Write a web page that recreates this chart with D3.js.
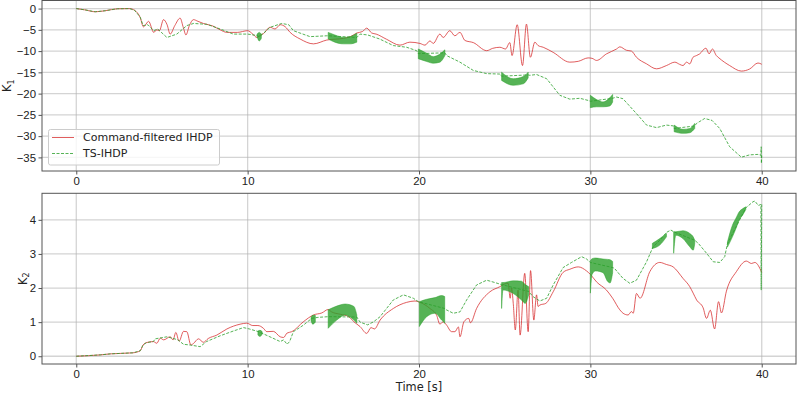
<!DOCTYPE html>
<html>
<head>
<meta charset="utf-8">
<script src="https://cdn.jsdelivr.net/npm/d3@7"></script>
<style>
  body { margin: 0; background: #fff; }
  svg { font-family: "DejaVu Sans", sans-serif; }
  .tick text { font-size: 11.4px; fill: #222; }
</style>
</head>
<body>
<svg id="chart" width="797" height="393"></svg>
<script>
// ---- data: [time, value] ----
var k1Command = [
  [0,0],[0.5,-0.3],[1.1,-0.75],[1.7,-0.5],[2.4,-0.05],[3.1,0],[3.4,-0.4],[3.73,-2.1],[3.92,-4.3],
  [4.22,-3.0],[4.52,-5.6],[4.7,-5.0],[4.85,-5.2],[5.09,-2.6],[5.3,-3.8],[5.48,-6.0],[5.75,-4.0],
  [6.06,-2.25],[6.25,-4.5],[6.4,-6.2],[6.6,-4.0],[6.84,-2.6],[7.1,-3.0],[7.42,-3.5],[7.97,-4.1],
  [8.4,-5.0],[8.79,-5.6],[9.4,-5.6],[10.0,-5.2],[10.3,-6.0],[10.54,-6.8],[10.73,-6.3],[10.92,-5.9],
  [11.31,-4.4],[11.6,-4.8],[11.9,-3.8],[12.19,-4.27],[12.48,-5.6],[13.06,-7.15],[13.84,-8.3],
  [14.62,-7.4],[15.59,-7.0],[16.0,-6.6],[16.37,-5.75],[16.7,-5.4],[16.95,-4.6],[17.24,-5.75],
  [17.5,-6.0],[18.1,-7.2],[18.89,-8.6],[19.47,-7.9],[20.06,-8.2],[20.35,-8.6],[20.64,-7.6],
  [20.83,-8.2],[21.22,-6.0],[21.41,-6.8],[21.8,-5.2],[22.09,-6.4],[22.39,-5.6],[22.68,-7.5],
  [23.17,-8.0],[23.95,-9.9],[24.3,-9.35],[24.72,-9.1],[25.05,-9.5],[25.3,-8.0],[25.43,-11.05],
  [25.73,-3.8],[26.04,-13.4],[26.27,-3.65],[26.5,-11.45],[26.76,-7.9],[26.95,-8.7],[27.25,-9.1],
  [27.83,-10.3],[28.8,-12.6],[29.3,-12.4],[29.87,-11.6],[30.1,-11.7],[30.36,-12.2],[30.94,-10.65],
  [31.53,-9.5],[31.72,-9.0],[32.1,-9.8],[32.4,-10.0],[32.69,-11.45],[33.28,-13.0],[33.86,-14.17],
  [34.44,-13.4],[34.93,-12.6],[35.2,-13.1],[35.41,-13.4],[35.61,-12.6],[35.8,-13.0],[35.99,-11.45],
  [36.19,-11.05],[36.38,-10.65],[36.74,-9.3],[36.93,-10.65],[37.12,-9.5],[37.35,-11.05],[37.5,-11.6],
  [38.13,-13.4],[38.81,-14.7],[39.3,-14.2],[39.78,-12.8],[40,-13.1]
];

var k1TS = [
  [0,0],[0.5,-0.3],[1.1,-0.75],[1.7,-0.5],[2.4,-0.05],[3.1,0],[3.4,-0.4],[3.73,-2.0],[3.9,-4.0],
  [4.18,-3.8],[4.52,-5.2],[4.75,-4.8],[5.29,-6.8],[5.87,-6.0],[6.45,-4.0],[6.84,-3.5],[7.62,-3.7],
  [8.4,-4.8],[9.17,-6.0],[10.0,-6.0],[10.5,-6.3],[10.7,-6.6],[11.31,-4.4],[11.99,-3.5],[12.4,-3.8],
  [12.67,-5.2],[13.64,-6.6],[14.62,-6.4],[14.7,-6.4],[16.37,-6.8],[16.56,-6.0],[17.0,-6.2],
  [17.7,-7.15],[18.5,-8.7],[19.28,-9.1],[19.86,-9.9],[19.96,-10.6],[21.51,-10.4],[21.61,-11.05],
  [22.39,-12.6],[23.17,-14.55],[23.95,-15.3],[24.72,-15.4],[24.82,-15.9],[26.37,-15.6],[26.47,-15.7],
  [26.86,-15.5],[27.45,-16.5],[28.22,-20.4],[28.8,-21.3],[29.39,-21.1],[29.87,-21.6],[30.0,-21.8],
  [31.3,-21.1],[31.53,-20.8],[31.9,-21.2],[32.69,-24.7],[33.28,-27.4],[33.86,-28.0],[34.44,-27.4],
  [34.85,-27.6],[34.89,-28.2],[36.09,-27.6],[36.2,-27.0],[36.67,-25.85],[37.1,-26.3],[37.55,-28.2],
  [38.13,-32.5],[38.81,-34.95],[39.3,-34.4],[39.78,-34.3],[39.95,-34.5],[39.97,-32.5],[39.98,-36.4],
  [40,-34.6]
];

// chattering bands of the TS-IHDP curve: [time, upper, lower]
var k1TSChatter = [
  [[10.55,-6.0,-6.6],[10.68,-5.6,-7.6],[10.8,-6.0,-7.0]],
  [[14.7,-5.6,-7.15],[15.09,-6.2,-7.9],[15.59,-6.8,-8.3],[15.98,-6.6,-8.3],[16.37,-5.8,-7.9]],
  [[19.96,-9.5,-11.8],[20.45,-10.5,-12.45],[20.83,-11.3,-12.85],[21.22,-10.7,-12.6],[21.51,-9.7,-11.05]],
  [[24.82,-14.95,-16.9],[25.5,-16.5,-18.05],[26.08,-16.0,-17.7],[26.37,-14.95,-16.3]],
  [[30.0,-20.4,-23.3],[30.36,-21.4,-23.1],[30.74,-21.95,-23.1],[31.13,-21.0,-22.9],[31.3,-20.2,-21.95]],
  [[34.89,-27.4,-28.97],[35.41,-28.4,-29.35],[35.8,-28.2,-29.2],[36.09,-27.0,-28.2]]
];

var k2Command = [
  [0,0],[1.4,0.04],[2.0,0.07],[3.3,0.1],[3.73,0.16],[3.9,0.33],[4.1,0.4],[4.5,0.43],[4.7,0.38],
  [4.9,0.53],[5.1,0.48],[5.48,0.57],[5.65,0.48],[5.81,0.70],[6.0,0.44],[6.26,0.73],[6.45,0.72],
  [6.69,0.33],[6.85,0.38],[7.13,0.51],[7.42,0.41],[7.7,0.52],[8.2,0.62],[8.79,0.80],[9.56,0.94],
  [9.95,0.97],[10.3,0.9],[10.6,0.9],[10.92,0.82],[11.12,0.72],[11.5,0.73],[11.9,0.57],[12.1,0.55],
  [12.3,0.68],[12.58,0.72],[13.25,1.01],[13.84,1.21],[14.33,1.27],[14.7,1.37],[14.9,1.30],
  [15.41,1.23],[15.9,1.16],[16.2,1.01],[16.56,0.87],[16.95,0.67],[17.2,0.84],[17.4,0.80],
  [17.73,1.06],[18.5,1.40],[19.28,1.58],[19.77,1.62],[20.06,1.58],[20.64,1.40],[21.03,1.2],
  [21.22,0.94],[21.41,1.01],[21.6,0.92],[21.9,0.72],[22.1,0.72],[22.3,0.86],[22.39,0.57],
  [22.62,1.01],[22.9,1.11],[23.0,0.98],[23.36,1.40],[24.14,1.89],[24.72,2.04],[25.0,2.12],
  [25.2,2.14],[25.32,1.7],[25.4,2.0],[25.5,1.55],[25.62,0.77],[25.78,1.94],[25.9,0.62],[26.17,2.43],
  [26.37,0.72],[26.51,2.51],[26.7,1.06],[26.86,1.8],[26.95,1.46],[27.05,1.5],[27.4,1.55],
  [27.83,1.89],[28.41,2.46],[28.8,2.55],[29.29,2.62],[29.78,2.5],[30.0,2.4],[30.36,2.18],
  [30.94,1.94],[31.3,1.70],[31.72,1.36],[31.91,1.26],[32.2,1.21],[32.4,1.31],[32.5,1.26],
  [32.69,1.84],[32.9,1.70],[33.47,2.48],[34.05,2.75],[34.44,2.69],[34.83,2.62],[35.41,2.28],
  [35.8,2.04],[36.0,1.85],[36.2,1.65],[36.58,1.42],[36.78,1.11],[37.0,1.35],[37.25,0.80],
  [37.48,1.60],[37.65,1.27],[37.94,1.91],[38.52,2.48],[39.1,2.79],[39.4,2.72],[39.6,2.75],[40,2.46]
];

var k2TS = [
  [0,0],[1.4,0.04],[2.0,0.07],[3.3,0.1],[3.73,0.16],[3.9,0.33],[4.1,0.4],[4.5,0.43],[4.6,0.51],
  [5.29,0.57],[5.6,0.53],[5.93,0.48],[6.26,0.35],[6.64,0.33],[7.23,0.28],[7.6,0.43],[8.4,0.6],
  [9.17,0.74],[9.76,0.84],[10.1,0.8],[10.64,0.72],[11.3,0.57],[11.9,0.43],[12.1,0.48],[12.3,0.35],
  [12.45,0.43],[12.67,0.72],[13.25,0.91],[13.74,1.11],[14.1,1.14],[14.7,1.16],[16.37,1.15],
  [16.56,1.0],[17.0,0.92],[17.35,1.01],[17.73,1.16],[18.5,1.65],[19.09,1.8],[19.67,1.70],
  [19.96,1.6],[21.5,1.4],[21.6,1.36],[22.0,1.26],[22.39,1.3],[22.78,1.65],[23.36,2.09],[23.95,2.23],
  [24.5,2.15],[24.82,2.1],[26.4,1.9],[26.65,1.75],[27.05,1.62],[27.45,1.70],[27.83,2.09],[28.41,2.6],
  [28.9,2.75],[29.49,2.92],[29.78,2.85],[30.0,2.75],[31.3,2.6],[31.4,2.58],[31.91,2.28],[32.3,2.14],
  [32.69,2.23],[33.28,2.77],[33.66,3.21],[34.05,3.4],[34.44,3.63],[34.7,3.70],[34.86,3.65],
  [36.09,3.4],[36.3,3.31],[36.78,3.02],[37.17,2.77],[37.55,2.75],[37.84,2.92],[38.0,3.3],
  [39.07,4.35],[39.49,4.53],[39.6,4.55],[39.8,4.42],[39.95,4.45],[39.97,1.94],[40,4.45]
];

var k2TSChatter = [
  [[10.6,0.74,0.62],[10.72,0.76,0.58],[10.85,0.72,0.65]],
  [[13.7,1.14,1.05],[13.8,1.2,0.94],[13.95,1.2,1.0]],
  [[14.7,1.36,0.82],[15.2,1.47,1.06],[15.69,1.53,1.21],[16.2,1.46,1.06],[16.37,1.21,0.97]],
  [[20.02,1.6,0.87],[20.45,1.67,1.16],[20.94,1.72,1.26],[21.32,1.78,1.06],[21.5,1.75,0.97]],
  [[24.82,2.16,1.4],[24.9,2.16,1.94],[25.5,2.21,1.84],[25.98,2.2,1.65],[26.2,2.1,1.55],[26.4,2.04,1.8]],
  [[30.0,2.8,1.85],[30.1,2.86,2.4],[30.3,2.88,2.5],[30.74,2.85,2.45],[31.0,2.84,2.2],[31.15,2.83,2.15],[31.3,2.78,2.45]],
  [[33.62,3.31,3.16],[34.05,3.45,3.26],[34.44,3.6,3.5]],
  [[34.86,3.65,3.02],[34.99,3.65,3.55],[35.4,3.68,3.45],[35.8,3.6,3.21],[36.0,3.5,3.11],[36.09,3.4,3.3]],
  [[38.0,3.35,3.2],[38.29,3.84,3.5],[38.5,4.05,3.75],[38.68,4.23,3.99],[38.9,4.33,4.15],[39.07,4.38,4.3]]
];

var xTicks = [0, 10, 20, 30, 40];
var k1Ticks = [0, -5, -10, -15, -20, -25, -30, -35];
var k2Ticks = [0, 1, 2, 3, 4];
var legendLabels = ["Command-filtered IHDP", "TS-IHDP"];

const RED = "#d62728";
const GREEN = "#2ca02c";
const FONT_SIZE = 11.4;

var svg = d3.select("#chart");

var x = d3.scaleLinear().domain([-2, 42]).range([42, 796]);

function drawPanel(cfg) {
  var g = svg.append("g");
  var y = d3.scaleLinear().domain(cfg.domain).range(cfg.range);
  var top = cfg.range[1], bottom = cfg.range[0];

  // grid
  g.append("g")
    .selectAll("line")
    .data(cfg.yTicks)
    .enter()
    .append("line")
    .attr("x1", 42).attr("x2", 796)
    .attr("y1", (d) => y(d)).attr("y2", (d) => y(d))
    .attr("stroke", "#b0b0b0").attr("stroke-opacity", 0.55).attr("stroke-width", 1.3);
  g.append("g")
    .selectAll("line")
    .data(xTicks)
    .enter()
    .append("line")
    .attr("x1", (d) => x(d)).attr("x2", (d) => x(d))
    .attr("y1", top).attr("y2", bottom)
    .attr("stroke", "#b0b0b0").attr("stroke-opacity", 0.55).attr("stroke-width", 1.3);

  var redLine = d3.line().curve(d3.curveMonotoneX).x((d) => x(d[0])).y((d) => y(d[1]));
  var greenLine = d3.line().x((d) => x(d[0])).y((d) => y(d[1]));
  var area = d3.area().curve(d3.curveMonotoneX)
    .x((d) => x(d[0])).y0((d) => y(d[2])).y1((d) => y(d[1]));

  g.append("path")
    .attr("d", redLine(cfg.red))
    .attr("fill", "none")
    .attr("stroke", RED).attr("stroke-opacity", 0.75).attr("stroke-width", 1);

  g.append("path")
    .attr("d", greenLine(cfg.green))
    .attr("fill", "none")
    .attr("stroke", GREEN).attr("stroke-opacity", 0.8).attr("stroke-width", 1)
    .attr("stroke-dasharray", "3,1.5");

  g.append("g")
    .selectAll("path")
    .data(cfg.bands)
    .enter()
    .append("path")
    .attr("d", (d) => area(d))
    .attr("fill", GREEN).attr("fill-opacity", 0.8)
    .attr("stroke", GREEN).attr("stroke-width", 0.6).attr("stroke-opacity", 0.85);

  // frame
  g.append("rect")
    .attr("x", 42).attr("y", top)
    .attr("width", 754).attr("height", bottom - top)
    .attr("fill", "none").attr("stroke", "#555").attr("stroke-width", 1);

  // axes
  var ax = g.append("g")
    .attr("transform", `translate(0,${bottom})`)
    .call(d3.axisBottom(x).tickValues(xTicks).tickFormat(d3.format("d")).tickSize(3.5).tickPadding(2));
  var ay = g.append("g")
    .attr("transform", "translate(42,0)")
    .call(d3.axisLeft(y).tickValues(cfg.yTicks).tickFormat(d3.format("d")).tickSize(3.5).tickPadding(2.5));
  [ax, ay].forEach((a) => {
    a.select(".domain").remove();
    a.selectAll(".tick line").attr("stroke", "#555");
  });

  // y label with subscript
  var lbl = g.append("text")
    .attr("transform", `translate(${cfg.labelX},${(top + bottom) / 2}) rotate(-90)`)
    .attr("text-anchor", "middle")
    .attr("font-size", FONT_SIZE).attr("fill", "#222");
  lbl.append("tspan").text("K");
  lbl.append("tspan").attr("font-size", 8).attr("dy", 2.5).text(cfg.sub);
  return y;
}

drawPanel({
  domain: [-38.2, 1.9], range: [171, 0.5], yTicks: k1Ticks,
  red: k1Command, green: k1TS, bands: k1TSChatter, labelX: 11, sub: "1"
});

drawPanel({
  domain: [-0.2275, 4.7775], range: [364, 193.3], yTicks: k2Ticks,
  red: k2Command, green: k2TS, bands: k2TSChatter, labelX: 26.5, sub: "2"
});

// x label
svg.append("text")
  .attr("x", x(20)).attr("y", 391)
  .attr("text-anchor", "middle")
  .attr("font-size", FONT_SIZE).attr("fill", "#222")
  .text("Time [s]");

// legend
var leg = svg.append("g");
leg.append("rect")
  .attr("x", 48.5).attr("y", 129.5).attr("width", 171).attr("height", 35.5)
  .attr("rx", 2).attr("fill", "#fff").attr("fill-opacity", 0.8)
  .attr("stroke", "#ccc").attr("stroke-width", 1);
var entries = leg.selectAll("g.entry")
  .data(legendLabels)
  .enter()
  .append("g")
  .attr("transform", (d, i) => `translate(0,${137.5 + i * 16})`);
entries.append("line")
  .attr("x1", 52).attr("x2", 74).attr("y1", 0).attr("y2", 0)
  .attr("stroke", (d, i) => (i === 0 ? RED : GREEN))
  .attr("stroke-opacity", (d, i) => (i === 0 ? 0.75 : 0.8))
  .attr("stroke-width", 1)
  .attr("stroke-dasharray", (d, i) => (i === 0 ? null : "3,1.5"));
entries.append("text")
  .attr("x", 83).attr("y", 0).attr("dy", "0.35em")
  .attr("font-size", 11).attr("fill", "#222")
  .text((d) => d);
</script>
</body>
</html>
